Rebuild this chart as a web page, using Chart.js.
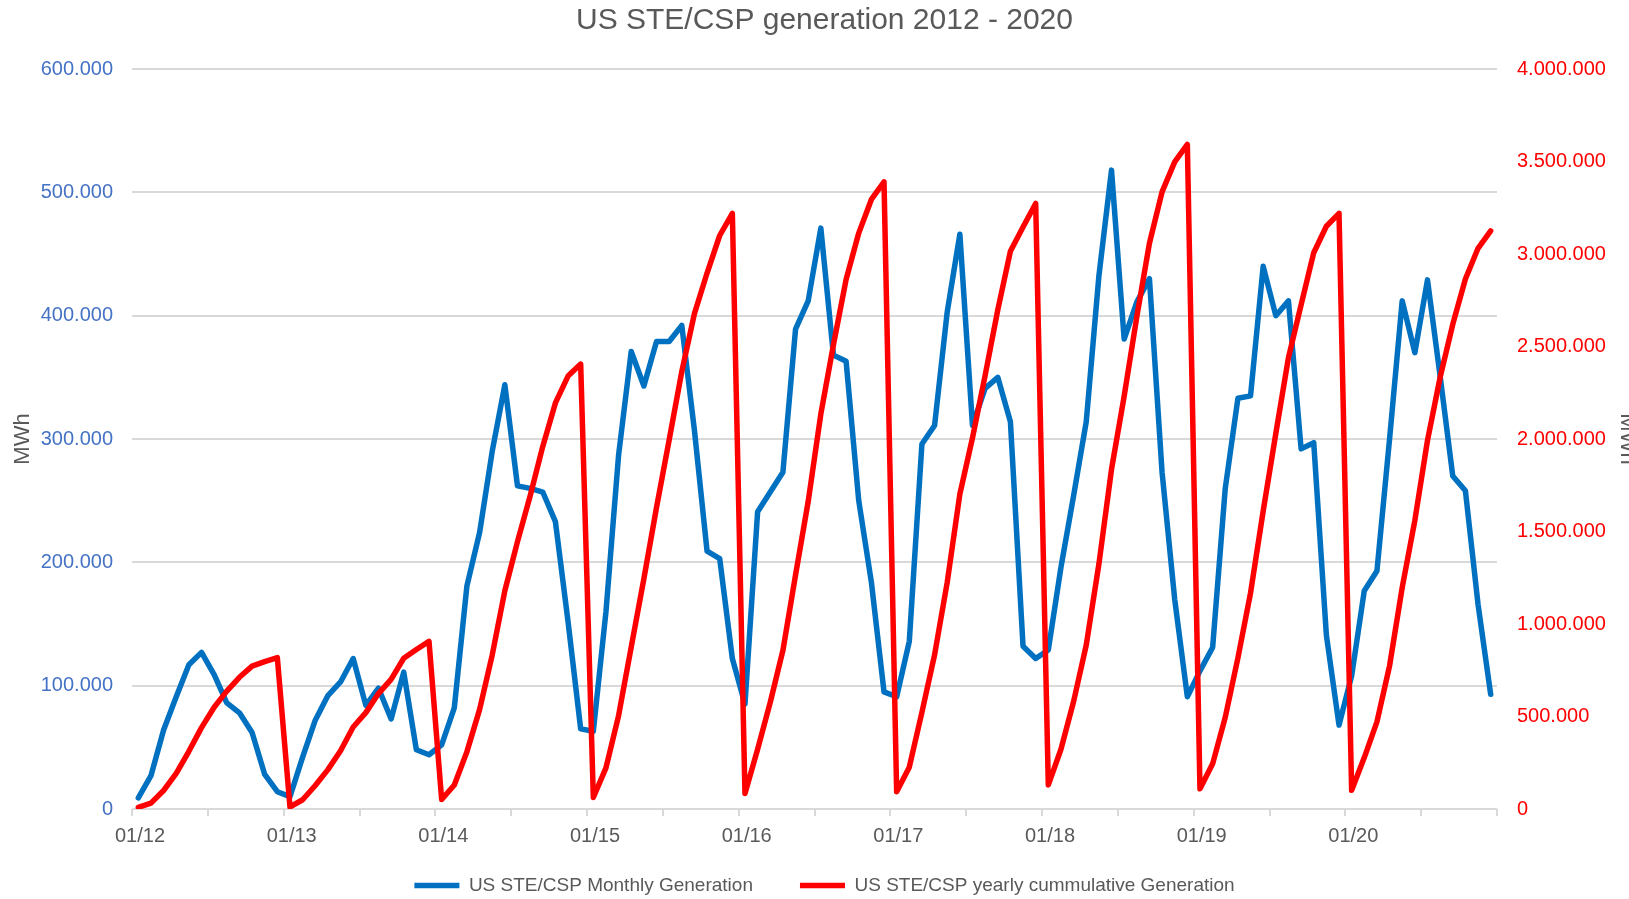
<!DOCTYPE html>
<html>
<head>
<meta charset="utf-8">
<title>US STE/CSP generation 2012 - 2020</title>
<script src="https://cdn.jsdelivr.net/npm/chart.js@4.4.1/dist/chart.umd.min.js"></script>
<style>
  html, body { margin: 0; padding: 0; background: #fff; }
  #wrap { width: 1629px; height: 899px; }
</style>
</head>
<body>
<div id="wrap"><canvas id="cspChart" width="1629" height="899"></canvas></div>
<script>
// x axis labels, one per January
const yearLabels = ["01/12", "01/13", "01/14", "01/15", "01/16", "01/17", "01/18", "01/19", "01/20"];

// US STE/CSP monthly generation, MWh (01/2012 .. 12/2020)
const monthlyGen = [
  9000, 27000, 64000, 91000, 117000, 127000, 109000, 86000, 78000, 62000, 28000, 14000,
  10000, 42000, 72000, 92000, 103000, 122000, 84000, 98000, 73000, 111000, 48000, 44000,
  52000, 82000, 181000, 224000, 290000, 344000, 262000, 260000, 257000, 233000, 152000, 65000,
  63000, 160000, 287000, 371000, 343000, 379000, 379000, 392000, 307000, 209000, 203000, 122000,
  85000, 241000, 257000, 273000, 389000, 412000, 471000, 368000, 363000, 250000, 184000, 95000,
  91000, 136000, 296000, 311000, 403000, 466000, 311000, 341000, 350000, 314000, 132000, 122000,
  129000, 196000, 254000, 314000, 432000, 518000, 381000, 411000, 430000, 273000, 170000, 91000,
  112000, 131000, 260000, 333000, 335000, 440000, 400000, 412000, 292000, 297000, 141000, 68000,
  108000, 177000, 193000, 300000, 412000, 370000, 429000, 351000, 270000, 258000, 166000, 93000
];

// yearly cumulative generation, MWh
const cumulativeGen = [
  9000, 32000, 100000, 192000, 312000, 440000, 550000, 637000, 712000, 772000, 797000, 818000,
  11000, 50000, 127000, 213000, 315000, 443000, 521000, 624000, 701000, 815000, 862000, 906000,
  51000, 130000, 310000, 537000, 832000, 1180000, 1445000, 1692000, 1960000, 2195000, 2340000, 2405000,
  62000, 222000, 505000, 876000, 1245000, 1630000, 1995000, 2365000, 2678000, 2897000, 3100000, 3220000,
  84000, 323000, 577000, 857000, 1265000, 1662000, 2135000, 2510000, 2862000, 3113000, 3295000, 3390000,
  93000, 226000, 523000, 833000, 1225000, 1702000, 2006000, 2343000, 2697000, 3015000, 3146000, 3273000,
  130000, 323000, 581000, 886000, 1323000, 1836000, 2231000, 2660000, 3058000, 3336000, 3498000, 3592000,
  109000, 244000, 496000, 816000, 1168000, 1611000, 2030000, 2440000, 2725000, 3007000, 3150000, 3220000,
  101000, 278000, 471000, 774000, 1197000, 1560000, 1992000, 2333000, 2620000, 2865000, 3031000, 3125000
];

const FONT = "'Liberation Sans', Arial, sans-serif";
const GREY = "#595959";
const GRID = "#D9D9D9";

// 600000 -> "600.000"
const fmt = v => String(v).replace(/\B(?=(\d{3})+(?!\d))/g, ".");

// each month sits in the middle of its slot on the time axis
const toPoints = arr => arr.map((v, i) => ({ x: i + 0.5, y: v }));

// legend: keep its box small for the layout, then let it grow upwards
// (it clips to its own box) and move title/legend slightly right
const nudge = {
  id: "nudge",
  beforeInit(chart) {
    const fit = chart.legend.fit;
    chart.legend.fit = function () {
      fit.call(this);
      this.height = 44;
    };
  },
  afterLayout(chart) {
    const lg = chart.legend;
    lg.top -= 26;
    lg.height = lg.bottom - lg.top;
    lg.left += 10;
    lg.right += 10;
    const tt = chart.titleBlock;
    tt.left += 10;
    tt.right += 10;
  }
};

new Chart(document.getElementById("cspChart"), {
  type: "line",
  data: {
    datasets: [
      {
        label: "US STE/CSP Monthly Generation",
        data: toPoints(monthlyGen),
        yAxisID: "y",
        borderColor: "#0070C0",
        backgroundColor: "#0070C0",
        borderWidth: 5.5,
        borderJoinStyle: "round",
        borderCapStyle: "round",
        pointRadius: 0,
        tension: 0,
        order: 1
      },
      {
        label: "US STE/CSP yearly cummulative Generation",
        data: toPoints(cumulativeGen),
        yAxisID: "y1",
        borderColor: "#FF0000",
        backgroundColor: "#FF0000",
        borderWidth: 5.5,
        borderJoinStyle: "round",
        borderCapStyle: "round",
        pointRadius: 0,
        tension: 0,
        order: 0
      }
    ]
  },
  options: {
    responsive: false,
    devicePixelRatio: 1,
    animation: false,
    events: [],
    layout: { autoPadding: false, padding: 0 },
    plugins: {
      title: {
        display: true,
        text: "US STE/CSP generation 2012 - 2020",
        color: GREY,
        font: { family: FONT, size: 30, weight: "normal" },
        padding: { top: 3, bottom: 30 }
      },
      legend: {
        position: "bottom",
        labels: {
          color: GREY,
          font: { family: FONT, size: 19 },
          usePointStyle: true,
          pointStyle: "line",
          pointStyleWidth: 45,
          padding: 47,
          sort: (a, b) => a.datasetIndex - b.datasetIndex
        }
      },
      tooltip: { enabled: false }
    },
    scales: {
      x: {
        type: "linear",
        min: 0,
        max: monthlyGen.length,
        afterFit: s => { s.height = 46; },
        grid: { drawOnChartArea: false, drawTicks: true, tickLength: 7, color: GRID, lineWidth: 2 },
        border: { display: false },
        ticks: {
          stepSize: 6,
          autoSkip: false,
          maxRotation: 0,
          padding: 8,
          labelOffset: 8,
          color: GREY,
          font: { family: FONT, size: 20 },
          callback: v => (v % 12 === 0 && yearLabels[v / 12]) ? yearLabels[v / 12] : ""
        }
      },
      y: {
        position: "left",
        min: 0,
        max: 600000,
        afterFit: s => { s.width = 132; },
        grid: { color: GRID, lineWidth: 2, drawTicks: false },
        border: { display: false },
        ticks: {
          stepSize: 100000,
          padding: 19,
          color: "#4472C4",
          font: { family: FONT, size: 20 },
          callback: v => fmt(v)
        },
        title: {
          display: true,
          text: "MWh",
          color: GREY,
          font: { family: FONT, size: 22 },
          padding: { top: 10, bottom: 0 }
        }
      },
      y1: {
        position: "right",
        min: 0,
        max: 4000000,
        afterFit: s => { s.width = 132; },
        grid: { drawOnChartArea: false, drawTicks: false },
        border: { display: false },
        ticks: {
          stepSize: 500000,
          padding: 20,
          color: "#FF0000",
          font: { family: FONT, size: 20 },
          callback: v => fmt(v)
        },
        title: {
          display: true,
          text: "MWh",
          color: GREY,
          font: { family: FONT, size: 22 },
          padding: { top: -11, bottom: 0 }
        }
      }
    }
  },
  plugins: [nudge]
});
</script>
</body>
</html>
